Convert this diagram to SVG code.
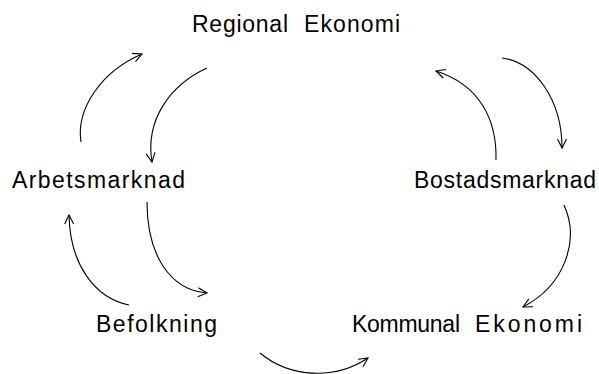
<svg xmlns="http://www.w3.org/2000/svg" width="599" height="374" viewBox="0 0 599 374">
<defs>
<marker id="ah" viewBox="-10 -6 12 12" refX="0" refY="0" markerWidth="12" markerHeight="12" markerUnits="userSpaceOnUse" orient="auto">
<path d="M-9,-4.5 L0,0 L-9,4.5" fill="none" stroke="#000" stroke-width="1.1"/>
</marker>
</defs>
<style>
text{font-family:"Liberation Sans",Arial,sans-serif;font-size:23px;fill:#000}
.c{fill:none;stroke:#000;stroke-width:1.1;marker-end:url(#ah)}
</style>
<rect width="599" height="374" fill="#fff"/>
<g id="regional-ekonomi"><text y="32"><tspan x="192" textLength="96" lengthAdjust="spacing">Regional</tspan><tspan x="304" textLength="96" lengthAdjust="spacing">Ekonomi</tspan></text></g>
<g id="arbetsmarknad"><text x="12" y="188" textLength="173" lengthAdjust="spacing">Arbetsmarknad</text></g>
<g id="bostadsmarknad"><text x="414" y="188" textLength="182" lengthAdjust="spacing">Bostadsmarknad</text></g>
<g id="befolkning"><text x="96" y="332" textLength="121" lengthAdjust="spacing">Befolkning</text></g>
<g id="kommunal-ekonomi"><text y="332"><tspan x="352" textLength="108" lengthAdjust="spacing">Kommunal</tspan><tspan x="475" textLength="107" lengthAdjust="spacing">Ekonomi</tspan></text></g>
<g id="connectors">
<path class="c" d="M81,142 C76,110 100,72 142,54"/>
<path class="c" d="M207,68 C170,85 145,120 152,162"/>
<path class="c" d="M496,160 C497,120 480,85 436,71"/>
<path class="c" d="M502,58 C535,62 562,100 562,148"/>
<path class="c" d="M129,305 C95,298 70,265 69,215"/>
<path class="c" d="M147,202 C147,255 170,290 207,293"/>
<path class="c" d="M564,205 C580,240 565,285 523,307"/>
<path class="c" d="M260,353 C290,378 335,380 368,358"/>
</g>
</svg>
